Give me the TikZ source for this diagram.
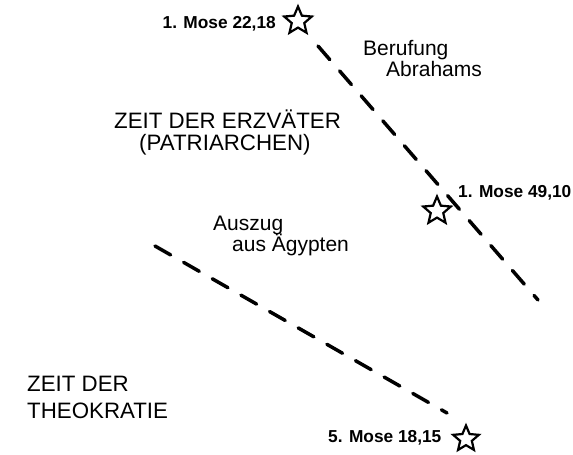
\documentclass[tikz,border=0pt]{standalone}
\usepackage{fontspec}
\setmainfont{Liberation Sans}
\usetikzlibrary{shapes.geometric}
\begin{document}
\begin{tikzpicture}[x=1pt,y=-1pt,
  ref/.style={font=\fontsize{17.3}{20}\selectfont\bfseries, inner sep=0pt},
  lbl/.style={font=\fontsize{21}{24}\selectfont, inner sep=0pt},
  big/.style={font=\fontsize{22.3}{26}\selectfont, inner sep=0pt},
  starmark/.style={star, star points=5, star point ratio=2.2, draw, line width=2.2pt, line join=miter, minimum size=29pt, inner sep=0pt},
  era/.style={line width=3.5pt, line cap=round, dash pattern=on 18pt off 15pt}]
\useasboundingbox (0,0) rectangle (573,455);

% stars
\node[starmark] (s1) at (298,21) {};
\node[starmark] (s2) at (437,211) {};
\node[starmark, minimum size=27pt] (s3) at (466,439) {};

% reference labels
\node[ref, anchor=base east] (r1) at (276,28) {1. Mose 22,18};
\node[ref, anchor=base west] (r2) at (458,197) {1. Mose 49,10};
\node[ref, anchor=base west] (r3) at (328,442) {5. Mose 18,15};

% event labels
\node[lbl, anchor=base west] (b1) at (363,55) {Berufung};
\node[lbl, anchor=base west] (b2) at (386,76) {Abrahams};
\node[lbl, anchor=base west] (a1) at (213,230) {Auszug};
\node[lbl, anchor=base west] (a2) at (232,251) {aus Ägypten};

% era labels
\node[big, anchor=base west] (e1) at (114,128) {ZEIT DER ERZVÄTER};
\node[big, anchor=base west] (e2) at (139,150) {(PATRIARCHEN)};
\node[big, anchor=base west] (t1) at (27,391) {ZEIT DER};
\node[big, anchor=base west] (t2) at (27,418) {THEOKRATIE};

% dashed era lines
\coordinate (l1s) at (318,46);
\coordinate (l1e) at (538,300);
\coordinate (l2s) at (155,246);
\coordinate (l2e) at (447,413);
\draw[era] (l1s) -- (l1e);
\draw[era] (l2s) -- (l2e);
\end{tikzpicture}
\end{document}
